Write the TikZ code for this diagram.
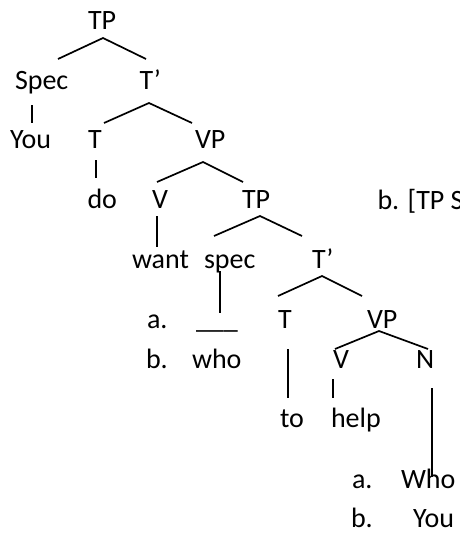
\documentclass[tikz,border=0pt]{standalone}
\usepackage{fontspec}
\setmainfont{Carlito}
\begin{document}
\begin{tikzpicture}[x=1pt,y=-1pt,
  lbl/.style={font=\fontsize{28}{34}\selectfont, inner sep=0pt, outer sep=0pt, anchor=base west},
  br/.style={line width=1.7pt, black}]
\useasboundingbox (0,0) rectangle (459,533);
% labels
\node[lbl] (tpA) at (88,29) {TP};
\node[lbl] (specA) at (15,89) {Spec};
\node[lbl] (tbarA) at (139.5,89) {T’};
\node[lbl] (youA) at (10,148) {You};
\node[lbl] (tA) at (88,148) {T};
\node[lbl] (vpA) at (195,148) {VP};
\node[lbl] (doA) at (87.5,208) {do};
\node[lbl] (vA) at (152,208) {V};
\node[lbl] (tpB) at (242,208) {TP};
\node[lbl] (bracket) at (377.5,209) {b. [TP S};
\node[lbl] (want) at (132,268) {want};
\node[lbl] (specB) at (204,268) {spec};
\node[lbl] (tbarB) at (312,268) {T’};
\node[lbl] (aA) at (147,328) {a.};
\node[lbl] (blank) at (196,328) {\_\_\_};
\node[lbl] (tB) at (278,328) {T};
\node[lbl] (vpB) at (367,328) {VP};
\node[lbl] (bA) at (146,368) {b.};
\node[lbl] (who) at (192,368) {who};
\node[lbl] (vB) at (333,368) {V};
\node[lbl] (nB) at (416,368) {N};
\node[lbl] (to) at (280,427) {to};
\node[lbl] (help) at (331,427) {help};
\node[lbl] (aB) at (352,488) {a.};
\node[lbl] (whoB) at (401,488) {Who};
\node[lbl] (bB) at (351,527) {b.};
\node[lbl] (youB) at (413,527) {You};
% branch points
\coordinate (p1) at (103,38);  \coordinate (p1l) at (58,59);   \coordinate (p1r) at (146,59);
\coordinate (p2) at (149,103); \coordinate (p2l) at (104,123); \coordinate (p2r) at (192,123);
\coordinate (p3) at (203,162); \coordinate (p3l) at (157,182); \coordinate (p3r) at (243,182);
\coordinate (p4) at (260,216); \coordinate (p4l) at (214,236); \coordinate (p4r) at (302,236);
\coordinate (p5) at (322,276); \coordinate (p5l) at (278,296); \coordinate (p5r) at (362,296);
\coordinate (p6) at (379,331); \coordinate (p6l) at (335,349); \coordinate (p6r) at (428,349);
\coordinate (s1t) at (32,105);  \coordinate (s1b) at (32,123);
\coordinate (s2t) at (96,160);  \coordinate (s2b) at (96,178);
\coordinate (s3t) at (157,216); \coordinate (s3b) at (157,247);
\coordinate (s4t) at (220,271); \coordinate (s4b) at (220,313);
\coordinate (s5t) at (288,349); \coordinate (s5b) at (288,398);
\coordinate (s6t) at (333,379); \coordinate (s6b) at (333,398);
\coordinate (s7t) at (432,388); \coordinate (s7b) at (432,477);
% connectors
\draw[br] (p1l) -- (p1) -- (p1r);
\draw[br] (p2l) -- (p2) -- (p2r);
\draw[br] (p3l) -- (p3) -- (p3r);
\draw[br] (p4l) -- (p4) -- (p4r);
\draw[br] (p5l) -- (p5) -- (p5r);
\draw[br] (p6l) -- (p6) -- (p6r);
\draw[br] (s1t) -- (s1b);
\draw[br] (s2t) -- (s2b);
\draw[br] (s3t) -- (s3b);
\draw[br] (s4t) -- (s4b);
\draw[br] (s5t) -- (s5b);
\draw[br] (s6t) -- (s6b);
\draw[br] (s7t) -- (s7b);
\end{tikzpicture}
\end{document}
